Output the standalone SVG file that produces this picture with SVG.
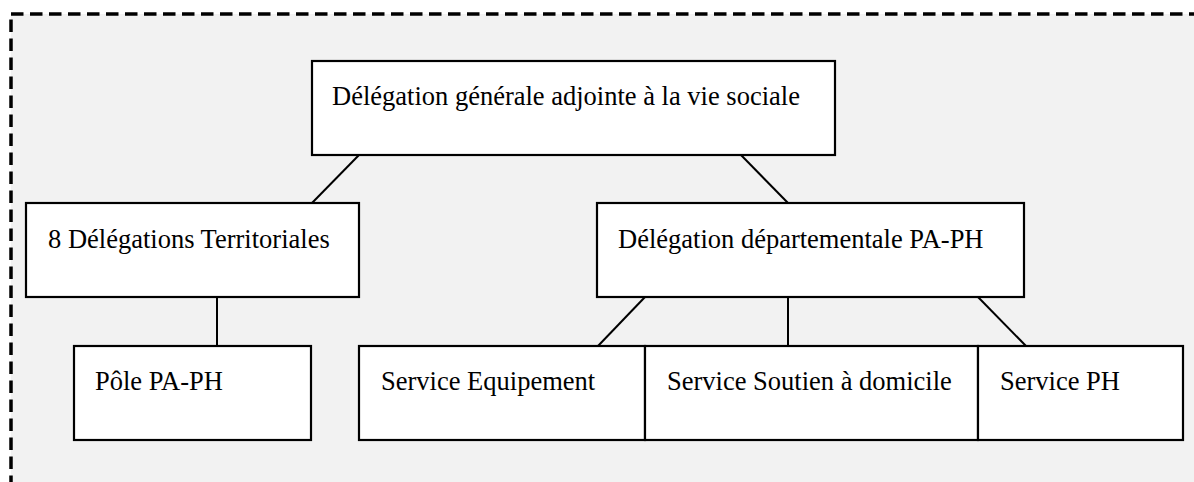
<svg xmlns="http://www.w3.org/2000/svg" width="1194" height="482" viewBox="0 0 1194 482">
<style>
.box{fill:#ffffff;stroke:#000000;stroke-width:2.2}
.lbl{fill:#000000}
.con{stroke:#000000;stroke-width:2;fill:none}
</style>
<rect width="1194" height="482" fill="#ffffff"/>
<rect id="frame" x="11" y="14" width="1200" height="500" fill="#f2f2f2" stroke="#000000" stroke-width="3.5" stroke-dasharray="12.5,6.5"/>
<g id="connectors">
<line class="con" x1="359" y1="155" x2="312" y2="203"/>
<line class="con" x1="741" y1="155" x2="788" y2="203"/>
<line class="con" x1="217" y1="297" x2="217" y2="346"/>
<line class="con" x1="645" y1="297" x2="598" y2="346"/>
<line class="con" x1="788" y1="297" x2="788" y2="346"/>
<line class="con" x1="978" y1="297" x2="1026" y2="346"/>
</g>
<g font-family="'Liberation Serif', 'Times New Roman', 'DejaVu Serif', serif" font-size="26.5">
<g id="n_top"><rect class="box" x="312" y="61" width="523" height="94"/><text class="lbl" x="332" y="105">Délégation générale adjointe à la vie sociale</text></g>
<g id="n_dt"><rect class="box" x="26" y="203" width="333" height="94"/><text class="lbl" x="48" y="248">8 Délégations Territoriales</text></g>
<g id="n_dd"><rect class="box" x="597" y="203" width="427" height="94"/><text class="lbl" x="618" y="248">Délégation départementale PA-PH</text></g>
<g id="n_pole"><rect class="box" x="74" y="346" width="237" height="94"/><text class="lbl" x="95" y="390">Pôle PA-PH</text></g>
<g id="n_equip"><rect class="box" x="359" y="346" width="286" height="94"/><text class="lbl" x="381" y="390">Service Equipement</text></g>
<g id="n_sout"><rect class="box" x="645" y="346" width="333" height="94"/><text class="lbl" x="667" y="390">Service Soutien à domicile</text></g>
<g id="n_ph"><rect class="box" x="978" y="346" width="205" height="94"/><text class="lbl" x="1000" y="390">Service PH</text></g>
</g>
</svg>
